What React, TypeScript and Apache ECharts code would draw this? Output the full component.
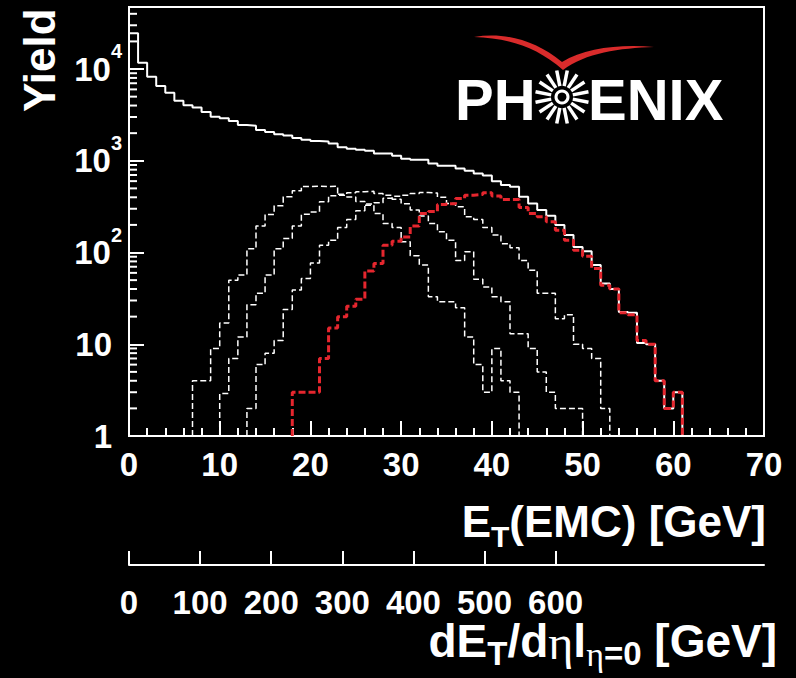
import React, { useEffect, useRef } from 'react';
import * as echarts from 'echarts';

// ---------------- data (1 GeV bins) ----------------
const TOTAL_START = 0;
const TOTAL = [24500, 11700, 8240, 6530, 5520, 4510, 4020, 3820, 3400, 3020, 2900, 2710, 2450, 2410, 2160, 2060, 1950, 1890, 1770, 1700,
  1640, 1620, 1545, 1400, 1350, 1320, 1285, 1200, 1200, 1135, 1050, 1025, 1025, 935, 883, 883, 826, 778, 728, 692,
  600, 543, 521, 405, 342, 290, 251, 199, 155, 115, 103, 73, 46, 40, 22.5, 22, 10.3, 10, 4, 2, 3];

const C1_START = 7;
const C1 = [4, 4, 9, 17, 50, 57, 110, 194, 260, 323, 405, 470, 525, 530, 525, 528, 422, 404, 360, 328,
  266, 207, 187, 131, 92, 73, 33, 29, 29, 25, 12, 6, 3, 9, 4, 3];

const C2_START = 10;
const C2 = [2.9, 7, 12, 27, 36, 57, 110, 142, 194, 262, 277, 357, 417, 432, 448, 460, 465, 440, 420, 380,
  340, 290, 250, 207, 168, 136, 82, 102, 51, 42, 33, 29, 13, 13, 9, 5, 3, 2, 2, 2];

const C3_START = 13;
const C3 = [2, 6, 8, 11, 24, 39, 52, 77, 120, 136, 187, 229, 285, 337, 348, 390, 410, 420, 440, 450,
  445, 400, 342, 315, 245, 229, 187, 155, 125, 113, 82, 64, 36, 36, 19, 21, 10, 9, 7, 2];

const RED_START = 18;
const RED = [3, 3, 3, 7, 15, 20, 26, 31, 63, 76, 120, 133, 148, 194, 266, 280, 333, 340, 388, 422,
  429, 448, 412, 378, 378, 310, 266, 245, 216, 175, 136, 106, 91, 67, 44, 40, 22, 21, 11, 10, 4, 2, 3];

const X_MIN = 0;
const X_MAX = 70;
const X_INTERVAL = 10;
const Y_MIN = 1;
const Y_MAX = 47450;
const DETA_MAX = 893;
const DETA_TICKS = [0, 100, 200, 300, 400, 500, 600];
const DECADES = [1, 10, 100, 1000, 10000];
const MINOR_MULT = [2, 3, 4, 5, 6, 7, 8, 9];

const FONT = '"Liberation Sans", Arial, Helvetica, sans-serif';
const SERIF = '"Liberation Serif", "DejaVu Serif", serif';
const RED_COLOR = '#e5262e';

function toSteps(start: number, vals: number[]) {
  const pts: number[][] = [[start, Y_MIN]];
  vals.forEach((v, i) => {
    pts.push([start + i, v]);
    pts.push([start + i + 1, v]);
  });
  pts.push([start + vals.length, Y_MIN]);
  return pts;
}

const SWOOSH_D = 'M474 37 C505 32 535 40 562 62 C585 48 620 44 654 47 C620 48 585 53 563 70 C536 46 506 38 474 37 Z';
echarts.graphic.registerShape('swoosh', echarts.graphic.extendPath(SWOOSH_D, {}));

export default function App() {
  const ref = useRef<HTMLDivElement>(null);
  useEffect(() => {
    document.body.style.margin = '0';
    document.body.style.background = '#000';
    const chart = echarts.init(ref.current!, undefined, { renderer: 'svg' });

    const yMinor: number[][] = [];
    DECADES.forEach((d) => MINOR_MULT.forEach((m) => { if (d * m < Y_MAX) yMinor.push([0, d * m]); }));

    const white = { color: '#fff', width: 2 };
    const label = { color: '#fff', fontFamily: FONT, fontWeight: 'bold' as const, fontSize: 33 };

    // logo rays
    const cx = 562, cy = 97;
    const rays: any[] = [];
    for (let k = 0; k < 16; k++) {
      const a = (k * Math.PI) / 8 + Math.PI / 16;
      rays.push({
        type: 'line',
        shape: { x1: cx + 11 * Math.cos(a), y1: cy + 11 * Math.sin(a), x2: cx + 27 * Math.cos(a), y2: cy + 27 * Math.sin(a) },
        style: { stroke: '#fff', lineWidth: 3.5 },
      });
    }

    const option: any = {
      animation: false,
      backgroundColor: '#000',
      grid: [
        { left: 129, top: 7, width: 635, height: 429, show: true, borderColor: '#fff', borderWidth: 2, backgroundColor: 'transparent' },
        { left: 129, top: 564, width: 635, height: 1 },
      ],
      xAxis: [
        {
          type: 'value', gridIndex: 0, min: X_MIN, max: X_MAX, interval: X_INTERVAL,
          axisLine: { show: true, onZero: false, lineStyle: white },
          axisTick: { show: true, inside: true, length: 15, lineStyle: white },
          minorTick: { show: true, splitNumber: 5, length: 8, lineStyle: white },
          splitLine: { show: false },
          axisLabel: { ...label, margin: 12 },
        },
        {
          type: 'value', gridIndex: 1, min: 0, max: DETA_MAX, position: 'bottom',
          axisLine: { show: true, onZero: false, lineStyle: white },
          axisTick: { show: true, inside: true, length: 14, lineStyle: white, customValues: DETA_TICKS },
          splitLine: { show: false },
          axisLabel: { ...label, lineHeight: 28, margin: 23, customValues: DETA_TICKS },
        },
      ],
      yAxis: [
        {
          type: 'log', logBase: 10, gridIndex: 0, min: Y_MIN, max: Y_MAX,
          axisLine: { show: true, lineStyle: white },
          axisTick: { show: true, inside: true, length: 15, lineStyle: white },
          splitLine: { show: false },
          axisLabel: {
            margin: 7,
            formatter: (v: number) => {
              const l = Math.log10(v);
              const e = Math.round(l);
              if (Math.abs(l - e) > 1e-6) return '';
              if (e === 0) return '{n|1}{g|}';
              if (e === 1) return '{n|10}{g|}';
              return '{n|10}{s|' + e + '}';
            },
            rich: {
              n: { ...label, verticalAlign: 'middle' },
              s: { color: '#fff', fontFamily: FONT, fontWeight: 'bold', fontSize: 20, verticalAlign: 'bottom', padding: [0, 0, 36, 0] },
              g: { width: 10 },
            },
          },
        },
        { type: 'value', gridIndex: 1, show: false, min: 0, max: 1 },
      ],
      series: [
        {
          type: 'custom', xAxisIndex: 0, yAxisIndex: 0, clip: false, silent: true, data: yMinor,
          renderItem: (params: any, api: any) => {
            const p = api.coord([api.value(0), api.value(1)]);
            return { type: 'line', shape: { x1: p[0], y1: p[1], x2: p[0] + 8, y2: p[1] }, style: { stroke: '#fff', lineWidth: 2 } };
          },
        },
        { type: 'line', xAxisIndex: 0, yAxisIndex: 0, data: toSteps(TOTAL_START, TOTAL), showSymbol: false, symbol: 'none', lineStyle: { color: '#fff', width: 2 } },
        { type: 'line', xAxisIndex: 0, yAxisIndex: 0, data: toSteps(C1_START, C1), showSymbol: false, symbol: 'none', lineStyle: { color: '#fff', width: 1.5, type: [6, 3] } },
        { type: 'line', xAxisIndex: 0, yAxisIndex: 0, data: toSteps(C2_START, C2), showSymbol: false, symbol: 'none', lineStyle: { color: '#fff', width: 1.5, type: [6, 3] } },
        { type: 'line', xAxisIndex: 0, yAxisIndex: 0, data: toSteps(C3_START, C3), showSymbol: false, symbol: 'none', lineStyle: { color: '#fff', width: 1.5, type: [6, 3] } },
        { type: 'line', xAxisIndex: 0, yAxisIndex: 0, data: toSteps(RED_START, RED), showSymbol: false, symbol: 'none', lineStyle: { color: RED_COLOR, width: 3, type: [7, 3] } },
        { type: 'line', xAxisIndex: 1, yAxisIndex: 1, data: [], showSymbol: false },
      ],
      graphic: [
        {
          type: 'text', x: 39, y: 112, rotation: Math.PI / 2,
          style: { text: 'Yield', fill: '#fff', font: 'bold 44px ' + FONT, textAlign: 'left', textVerticalAlign: 'middle' },
        },
        {
          type: 'text', x: 766, y: 499,
          style: {
            text: '{a|E}{b|T}{a|(EMC) [GeV]}', textAlign: 'right', textVerticalAlign: 'top',
            rich: {
              a: { fill: '#fff', fontFamily: FONT, fontWeight: 'bold', fontSize: 44, lineHeight: 44, verticalAlign: 'top' },
              b: { fill: '#fff', fontFamily: FONT, fontWeight: 'bold', fontSize: 30, lineHeight: 30, verticalAlign: 'top', padding: [22, 0, 0, 0] },
            },
          },
        },
        {
          type: 'text', x: 777, y: 618,
          style: {
            text: '{a|dE}{b|T}{a|/d}{g|η}{a|l}{h|η}{b|=0}{a| [GeV]}', textAlign: 'right', textVerticalAlign: 'top',
            rich: {
              a: { fill: '#fff', fontFamily: FONT, fontWeight: 'bold', fontSize: 46, lineHeight: 40, verticalAlign: 'top' },
              g: { fill: '#fff', fontFamily: SERIF, fontSize: 48, lineHeight: 40, verticalAlign: 'top' },
              b: { fill: '#fff', fontFamily: FONT, fontWeight: 'bold', fontSize: 33, lineHeight: 33, verticalAlign: 'top', padding: [19, 0, 0, 0] },
              h: { fill: '#fff', fontFamily: SERIF, fontSize: 34, lineHeight: 33, verticalAlign: 'top', padding: [19, 0, 0, 0] },
            },
          },
        },
        { type: 'swoosh', x: 0, y: 0, style: { fill: '#d92b2b' } },
        {
          type: 'text', x: 455, y: 99,
          style: { text: 'PH', fill: '#fff', font: 'bold 58px ' + FONT, textAlign: 'left', textVerticalAlign: 'middle' },
        },
        {
          type: 'text', x: 588, y: 99,
          style: { text: 'ENIX', fill: '#fff', font: 'bold 58px ' + FONT, textAlign: 'left', textVerticalAlign: 'middle' },
        },
        ...rays,
        { type: 'circle', shape: { cx, cy, r: 6 }, style: { fill: 'none', stroke: '#fff', lineWidth: 3 } },
      ],
    };
    chart.setOption(option);
    return () => chart.dispose();
  }, []);
  return <div ref={ref} style={{ position: 'absolute', left: 0, top: 0, width: 796, height: 678, background: '#000' }} />;
}
